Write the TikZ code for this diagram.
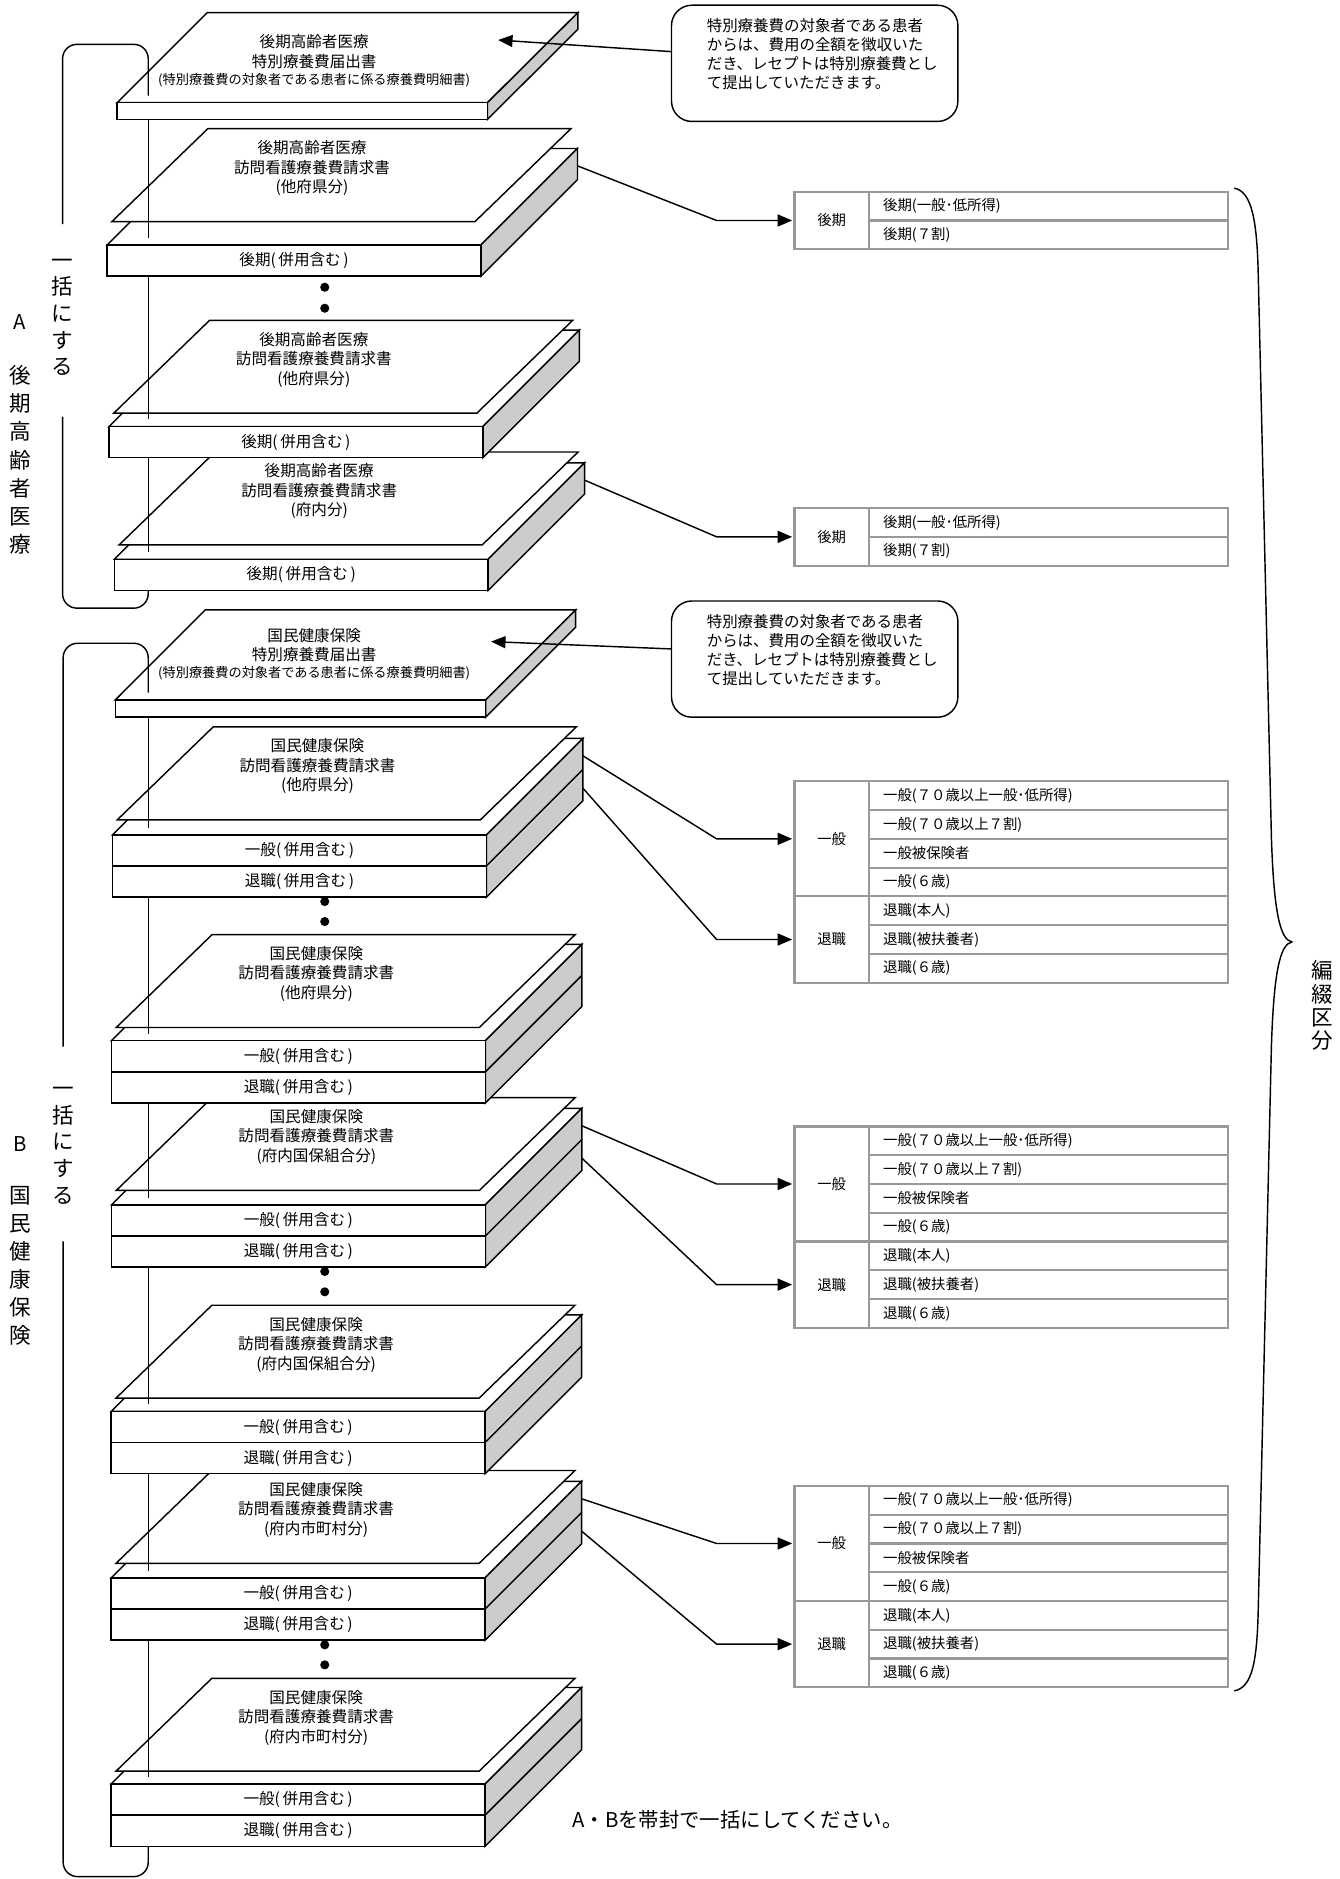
\documentclass[tikz,border=0pt]{standalone}
\usepackage{fontspec}
\setmainfont{Noto Sans CJK JP}
\usetikzlibrary{arrows.meta,positioning}

\begin{document}
\begin{tikzpicture}[x=1pt,y=-1pt]
\tikzstyle{trait} = [line width=1.2pt] %traits noirs
\tikzstyle{blanc} = [trait,fill=white]
\tikzstyle{gris} = [trait,fill=black!20] %flanc des liasses
\tikzstyle{fleche} = [trait,-{Triangle[length=12pt,width=10pt]}]
\tikzstyle{titre} = [align=center,inner sep=0pt,font=\fontsize{13}{16.3}\selectfont]
\tikzstyle{petit} = [inner sep=0pt,font=\fontsize{11}{13}\selectfont]
\tikzstyle{case} = [draw=black!40,line width=1.8pt,outer sep=0pt,inner sep=0pt,font=\fontsize{12}{14}\selectfont]
\tikzstyle{cgauche} = [case,minimum width=62pt]
\tikzstyle{cligne} = [case,minimum width=300pt,minimum height=24pt,text width=276pt,inner xsep=12pt,align=left]
\tikzstyle{bulle} = [draw,trait,rounded corners=17pt,minimum width=239pt,minimum height=97pt]
\tikzstyle{note} = [align=left,inner sep=0pt,font=\fontsize{12.9}{16}\selectfont]
\tikzstyle{vertical} = [align=center,inner sep=0pt]

\useasboundingbox (0,0) rectangle (1118,1568);

%feuille de declaration A
\draw[blanc] (97.7,85.7) -- (406.8,85.7) -- (482.2,10.6) -- (172.8,10.6) -- cycle;
\draw[gris] (406.8,85.7) -- (482.2,10.6) -- (482.2,24.5) -- (406.8,99.6) -- cycle;
\draw[blanc] (97.7,85.7) rectangle (406.8,99.6);
\node[titre] (A0) at (262.2,43.1) {後期高齢者医療\\特別療養費届出書};
\node[petit] (A0-s) at (262.2,66.7) {(特別療養費の対象者である患者に係る療養費明細書)};
\coordinate (A0-c) at (415.7,33.4);

%liasses A (du bas vers le haut)
\foreach \nom/\L/\T/\S/\lieu in {A3/95.4/466.7/454.7/(府内分), A2/90.9/356/344.8/(他府県分), A1/89.4/204.4/184.9/(他府県分)}{
  \draw[blanc] (\L,\T) -- ++(312,0) -- ++(80.5,-80.5) -- ++(-312,0) -- cycle;
  \draw[gris] ({\L+312},\T) -- ++(80.5,-80.5) -- ++(0,26) -- ++(-80.5,80.5) -- cycle;
  \draw[blanc] (\L,\T) rectangle ++(312,26);
  \draw[blanc] ({\L+4},\S) -- ++(303,0) -- ++(80,-77.5) -- ++(-303,0) -- cycle; %feuille
  \node[titre] (\nom) at ({\L+171},{\S-44.7}) {後期高齢者医療\\訪問看護療養費請求書\\\lieu};
  \node[titre] (\nom-r) at ({\L+156},{\T+13}) {後期(\,併用含む\,)};
  \coordinate (\nom-a) at ({\L+392.5},{\T-66});
}

%feuille de declaration B
\draw[blanc] (96.3,584) -- (405.3,584) -- (480.4,508.9) -- (171.3,508.9) -- cycle;
\draw[gris] (405.3,584) -- (480.4,508.9) -- (480.4,523.4) -- (405.3,598.5) -- cycle;
\draw[blanc] (96.3,584) rectangle (405.3,598.5);
\node[titre] (B0) at (262.2,538.2) {国民健康保険\\特別療養費届出書};
\node[petit] (B0-s) at (262.2,561.8) {(特別療養費の対象者である患者に係る療養費明細書)};
\coordinate (B0-c) at (409.8,535.4);

%liasses B (du bas vers le haut)
\foreach \nom/\L/\T/\S/\lieu in {B6/92.8/1488.7/1478/(府内市町村分), B5/92.8/1316.7/1304.6/(府内市町村分), B4/92.8/1177.8/1166.7/(府内国保組合分), B3/93/1005.4/993.4/(府内国保組合分), B2/93/868.5/857.4/(他府県分), B1/93.9/696.7/684.1/(他府県分)}{
  \draw[blanc] (\L,\T) -- ++(312,0) -- ++(80.5,-80.5) -- ++(-312,0) -- cycle;
  \draw[gris] ({\L+312},\T) -- ++(80.5,-80.5) -- ++(0,52) -- ++(-80.5,80.5) -- cycle;
  \draw[trait] ({\L+312},{\T+26}) -- ++(80.5,-80.5);
  \draw[blanc] (\L,\T) rectangle ++(312,52);
  \draw[trait] (\L,{\T+26}) -- ++(312,0);
  \draw[blanc] ({\L+4},\S) -- ++(303,0) -- ++(80,-77.5) -- ++(-303,0) -- cycle; %feuille
  \node[titre] (\nom) at ({\L+171},{\S-44.7}) {国民健康保険\\訪問看護療養費請求書\\\lieu};
  \node[titre] (\nom-r) at ({\L+156},{\T+13}) {一般(\,併用含む\,)};
  \node[titre] (\nom-s) at ({\L+156},{\T+39}) {退職(\,併用含む\,)};
  \coordinate (\nom-a) at ({\L+392.5},{\T-66});
  \coordinate (\nom-b) at ({\L+392.5},{\T-39});
}

%accolades de gauche et fil
\draw[trait,rounded corners=12pt] (52.2,187) -- (52.2,37) -- (123.7,37) -- (123.7,79.7);
\foreach \h/\b in {99.6/198.4, 230.4/350, 382/460.7}
  \draw[trait] (123.7,\h) -- (123.7,\b);
\draw[trait,rounded corners=12pt] (123.7,492.7) -- (123.7,507.5) -- (52.2,507.5) -- (52.2,347.6);

\draw[trait,rounded corners=12pt] (52.7,873.3) -- (52.7,536.8) -- (123.7,536.8) -- (123.7,578);
\foreach \h/\b in {598.5/690.7, 748.7/862.5, 920.5/999.4, 1057.4/1171.8, 1229.8/1310.7, 1368.7/1482.7}
  \draw[trait] (123.7,\h) -- (123.7,\b);
\draw[trait,rounded corners=12pt] (123.7,1540.7) -- (123.7,1566) -- (52.7,1566) -- (52.7,1036);

%points de suspension
\foreach \p in {239.7,257.2,752.3,769,1061,1078,1372.6,1389.3}
  \fill (271,\p) circle (3.8pt);

%textes verticaux
\node[vertical,font=\fontsize{18}{22.3}\selectfont] (unA) at (52.2,264.8) {一\\括\\に\\す\\る};
\node[vertical,font=\fontsize{18}{22.3}\selectfont] (unB) at (52.7,956) {一\\括\\に\\す\\る};
\node[font=\fontsize{17}{20}\selectfont] (lettreA) at (16.7,268.4) {A};
\node[font=\fontsize{17}{20}\selectfont] (lettreB) at (16.7,955) {B};
\node[vertical,font=\fontsize{18}{23.6}\selectfont] (nomA) at (16.7,383.8) {後\\期\\高\\齢\\者\\医\\療};
\node[vertical,font=\fontsize{18}{23.4}\selectfont] (nomB) at (16.7,1056.5) {国\\民\\健\\康\\保\\険};

%bulles
\node[bulle] (noteA) at (679.85,52.85) {};
\node[note,anchor=north west] (noteA-t) at (589.6,15) {特別療養費の対象者である患者\\からは、費用の全額を徴収いた\\だき、レセプトは特別療養費とし\\て提出していただきます。};
\draw[fleche] ([yshift=9.8pt]noteA.west) -- (A0-c);
\node[bulle] (noteB) at (679.85,550) {};
\node[note,anchor=north west] (noteB-t) at (589.6,512.2) {特別療養費の対象者である患者\\からは、費用の全額を徴収いた\\だき、レセプトは特別療養費とし\\て提出していただきます。};
\draw[fleche] ([yshift=8.5pt]noteB.west) -- (B0-c);

%tableaux
\node[cgauche,minimum height=48pt,anchor=north west] (tA1) at (663,160) {後期};
\node[cligne,anchor=north west] (tA1-1) at (tA1.north east) {後期(一般･低所得)};
\node[cligne,below=0pt of tA1-1] (tA1-2) {後期(７割)};
\node[cgauche,minimum height=48pt,anchor=north west] (tA3) at (663,424) {後期};
\node[cligne,anchor=north west] (tA3-1) at (tA3.north east) {後期(一般･低所得)};
\node[cligne,below=0pt of tA3-1] (tA3-2) {後期(７割)};

\foreach \nom/\y in {B1/652, B3/940, B5/1240}{
  \node[cgauche,minimum height=96pt,anchor=north west] (t\nom-g) at (663,\y) {一般};
  \node[cgauche,minimum height=72pt,below=0pt of t\nom-g] (t\nom-t) {退職};
  \node[cligne,anchor=north west] (t\nom-1) at (t\nom-g.north east) {一般(７０歳以上一般･低所得)};
  \node[cligne,below=0pt of t\nom-1] (t\nom-2) {一般(７０歳以上７割)};
  \node[cligne,below=0pt of t\nom-2] (t\nom-3) {一般被保険者};
  \node[cligne,below=0pt of t\nom-3] (t\nom-4) {一般(６歳)};
  \node[cligne,below=0pt of t\nom-4] (t\nom-5) {退職(本人)};
  \node[cligne,below=0pt of t\nom-5] (t\nom-6) {退職(被扶養者)};
  \node[cligne,below=0pt of t\nom-6] (t\nom-7) {退職(６歳)};
}

%fleches vers les tableaux
\coordinate (coude) at (598,0);
\draw[fleche,shorten >=2pt] (A1-a) -- (tA1.west -| coude) -- (tA1.west);
\draw[fleche,shorten >=2pt] (A3-a) -- (tA3.west -| coude) -- (tA3.west);
\foreach \nom in {B1,B3,B5}{
  \draw[fleche,shorten >=2pt] (\nom-a) -- (t\nom-g.west -| coude) -- (t\nom-g.west);
  \draw[fleche,shorten >=2pt] (\nom-b) -- (t\nom-t.west -| coude) -- (t\nom-t.west);
}

%accolade de droite
\draw[trait] (1030,157) .. controls (1045,160) and (1049,185) .. (1050,230) -- (1061,700)
  .. controls (1063,760) and (1068,784) .. (1078,786)
  .. controls (1068,788) and (1063,812) .. (1061,872) -- (1050,1342)
  .. controls (1049,1387) and (1045,1408) .. (1030,1411);
\node[vertical,font=\fontsize{18}{19.5}\selectfont] (classement) at (1103,839.2) {編\\綴\\区\\分};

\node[font=\fontsize{17}{20}\selectfont] (consigne) at (615.3,1518.5) {A・Bを帯封で一括にしてください。};
\end{tikzpicture}
\end{document}
